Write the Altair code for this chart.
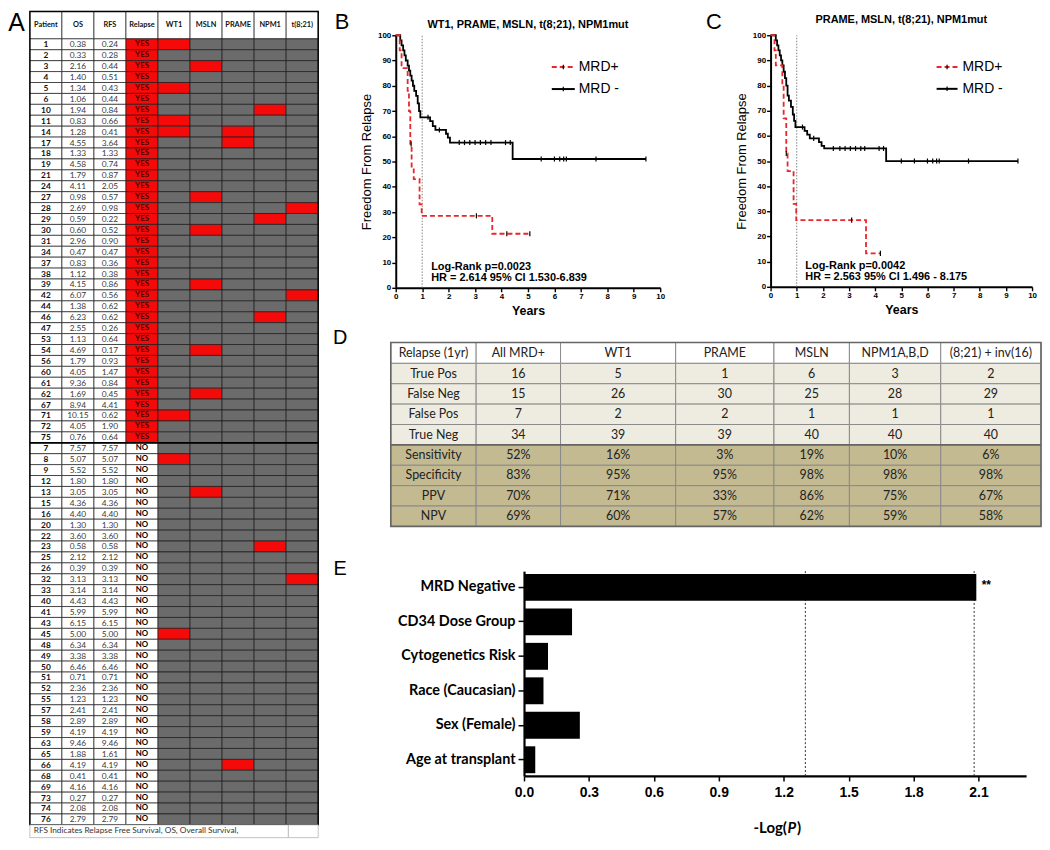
import altair as alt
import pandas as pd

# ======================= DATA =======================
# ---- Panel A: patient table ----
A_HEADERS = ["Patient", "OS", "RFS", "Relapse", "WT1", "MSLN", "PRAME", "NPM1", "t(8;21)"]
A_PATIENT = [1, 2, 3, 4, 5, 6, 10, 11, 14, 17, 18, 19, 21, 24, 27, 28, 29, 30, 31, 34,
             37, 38, 39, 42, 44, 46, 47, 53, 54, 56, 60, 61, 62, 67, 71, 72, 75,
             7, 8, 9, 12, 13, 15, 16, 20, 22, 23, 25, 26, 32, 33, 40, 41, 43, 45, 48,
             49, 50, 51, 52, 55, 57, 58, 59, 63, 65, 66, 68, 69, 73, 74, 76]
A_OS = ["0.38", "0.33", "2.16", "1.40", "1.34", "1.06", "1.94", "0.83", "1.28", "4.55",
        "1.33", "4.58", "1.79", "4.11", "0.98", "2.69", "0.59", "0.60", "2.96", "0.47",
        "0.83", "1.12", "4.15", "6.07", "1.38", "6.23", "2.55", "1.13", "4.69", "1.79",
        "4.05", "9.36", "1.69", "8.94", "10.15", "4.05", "0.76",
        "7.57", "5.07", "5.52", "1.80", "3.05", "4.36", "4.40", "1.30", "3.60", "0.58",
        "2.12", "0.39", "3.13", "3.14", "4.43", "5.99", "6.15", "5.00", "6.34", "3.38",
        "6.46", "0.71", "2.36", "1.23", "2.41", "2.89", "4.19", "9.46", "1.88", "4.19",
        "0.41", "4.16", "0.27", "2.08", "2.79"]
A_RFS = ["0.24", "0.28", "0.44", "0.51", "0.43", "0.44", "0.84", "0.66", "0.41", "3.64",
         "1.33", "0.74", "0.87", "2.05", "0.57", "0.98", "0.22", "0.52", "0.90", "0.47",
         "0.36", "0.38", "0.86", "0.56", "0.62", "0.62", "0.26", "0.64", "0.17", "0.93",
         "1.47", "0.84", "0.45", "4.41", "0.62", "1.90", "0.64",
         "7.57", "5.07", "5.52", "1.80", "3.05", "4.36", "4.40", "1.30", "3.60", "0.58",
         "2.12", "0.39", "3.13", "3.14", "4.43", "5.99", "6.15", "5.00", "6.34", "3.38",
         "6.46", "0.71", "2.36", "1.23", "2.41", "2.89", "4.19", "9.46", "1.61", "4.19",
         "0.41", "4.16", "0.27", "2.08", "2.79"]
A_RELAPSE = ["YES"] * 37 + ["NO"] * 35
A_MARKERS = {
    "WT1": [1, 5, 11, 14, 71, 8, 45],
    "MSLN": [3, 27, 30, 39, 54, 62, 13],
    "PRAME": [14, 17, 66],
    "NPM1": [10, 29, 46, 23],
    "t(8;21)": [28, 42, 32],
}
A_FOOTNOTE = "RFS Indicates Relapse Free Survival, OS, Overall Survival,"

# ---- Panels B, C: Kaplan-Meier ----
KM_XTICKS = [0, 1, 2, 3, 4, 5, 6, 7, 8, 9, 10]
KM_YTICKS = [0, 10, 20, 30, 40, 50, 60, 70, 80, 90, 100]
KM_LEGEND = ["MRD+", "MRD -"]

B_TITLE = "WT1, PRAME, MSLN, t(8;21), NPM1mut"
B_NEG_T = [0, 0.17, 0.22, 0.28, 0.33, 0.38, 0.45, 0.5, 0.55, 0.6, 0.65, 0.7, 0.77, 0.83,
           0.88, 0.93, 1.3, 1.4, 1.5, 1.9, 1.97, 2.05, 4.42, 9.46]
B_NEG_S = [100, 98, 96, 94, 92, 90, 88, 86, 84, 82, 80, 78, 76, 73,
           70, 67.5, 66, 64, 62.5, 61, 59.5, 57.5, 51, 51]
B_NEG_CENSOR = [1.22, 1.65, 2.4, 2.6, 2.8, 3.0, 3.2, 3.4, 3.6, 4.15, 4.33,
                5.5, 6.0, 6.2, 6.35, 6.45, 7.57, 9.46]
B_POS_T = [0, 0.15, 0.22, 0.45, 0.5, 0.55, 0.6, 0.68, 0.9, 0.98, 3.65, 5.07]
B_POS_S = [100, 94, 87, 78, 70, 57, 48, 43, 33, 28.5, 21.4, 21.4]
B_POS_CENSOR = [0.58, 3.05, 4.2, 5.07]
B_STATS = ["Log-Rank p=0.0023", "HR = 2.614 95% CI 1.530-6.839"]

C_TITLE = "PRAME, MSLN, t(8;21), NPM1mut"
C_NEG_T = [0, 0.2, 0.25, 0.3, 0.35, 0.4, 0.45, 0.5, 0.55, 0.6, 0.65, 0.7, 0.78, 0.85,
           0.9, 0.95, 1.3, 1.4, 1.5, 1.85, 1.95, 2.05, 4.42, 9.46]
C_NEG_S = [100, 98, 96, 94, 92, 90, 88, 85.5, 83, 80, 76, 74, 71.5, 68.5,
           66, 63.5, 62, 60.5, 59, 57.5, 56, 55, 50, 50]
C_NEG_CENSOR = [1.22, 1.65, 2.4, 2.65, 2.85, 3.05, 3.25, 3.45, 3.6, 4.15, 4.32,
                5.0, 5.5, 6.0, 6.2, 6.35, 6.45, 7.57, 9.46]
C_POS_T = [0, 0.15, 0.2, 0.45, 0.5, 0.6, 0.65, 0.88, 0.98, 3.65, 4.2]
C_POS_S = [100, 94, 88, 80, 67, 53, 46, 33, 26.5, 13.3, 13.3]
C_POS_CENSOR = [0.6, 3.1, 4.2]
C_STATS = ["Log-Rank p=0.0042", "HR = 2.563 95% CI 1.496 - 8.175"]

# ---- Panel D: performance table ----
D_COLS = ["Relapse (1yr)", "All MRD+", "WT1", "PRAME", "MSLN", "NPM1A,B,D", "(8;21) + inv(16)"]
D_ROWS = ["True Pos", "False Neg", "False Pos", "True Neg",
          "Sensitivity", "Specificity", "PPV", "NPV"]
D_ALL = ["16", "15", "7", "34", "52%", "83%", "70%", "69%"]
D_WT1 = ["5", "26", "2", "39", "16%", "95%", "71%", "60%"]
D_PRAME = ["1", "30", "2", "39", "3%", "95%", "33%", "57%"]
D_MSLN = ["6", "25", "1", "40", "19%", "98%", "86%", "62%"]
D_NPM1 = ["3", "28", "1", "40", "10%", "98%", "75%", "59%"]
D_T821 = ["2", "29", "1", "40", "6%", "98%", "67%", "58%"]

# ---- Panel E: -log(P) bars ----
E_LABELS = ["MRD Negative", "CD34 Dose Group", "Cytogenetics Risk",
            "Race (Caucasian)", "Sex  (Female)", "Age at transplant"]
E_VALUES = [2.09, 0.222, 0.111, 0.09, 0.258, 0.052]
E_THRESH = [1.3, 2.08]
E_TICKS = [0.0, 0.3, 0.6, 0.9, 1.2, 1.5, 1.8, 2.1]

# ======================= LAYOUT / STYLE =======================
W, H = 1040, 834
ARIAL = "Liberation Sans"
CAL = "Lato"
RED = "#f50a0a"
GRAY = "#6b6b6b"
KM_RED = "#e8262b"


def lin(dom, rng):
    return alt.Scale(domain=dom, range=rng, nice=False, zero=False)


def step_value(ts, ss, t):
    v = ss[0]
    for tt, s in zip(ts, ss):
        if tt <= t:
            v = s
    return v


layers = []

# ======================= PANEL A =======================
A_SX = lin([0, 9], [22, 312])
A_SY = lin([0, 72], [28.6, 819.2])
A_HDR_TOP = -2.51
A_FOOT_BOT = 73.17


def ax(f):
    return alt.X(f, type="quantitative", scale=A_SX, axis=None)


def ay(f):
    return alt.Y(f, type="quantitative", scale=A_SY, axis=None)


cells = []
for j in range(9):
    cells.append(dict(x0=j, x1=j + 1, y0=A_HDR_TOP, y1=0, fill="white"))
for i, p in enumerate(A_PATIENT):
    for j, h in enumerate(A_HEADERS):
        if j < 3:
            f = "white"
        elif j == 3:
            f = RED if A_RELAPSE[i] == "YES" else "white"
        else:
            f = RED if p in A_MARKERS[h] else GRAY
        cells.append(dict(x0=j, x1=j + 1, y0=i, y1=i + 1, fill=f))
cells = pd.DataFrame(cells)
layers.append(alt.Chart(cells).mark_rect(stroke="#1a1a1a", strokeWidth=0.7).encode(
    x=ax("x0"), x2="x1:Q", y=ay("y0"), y2="y1:Q", fill=alt.Fill("fill:N", scale=None)))

layers.append(alt.Chart(pd.DataFrame({"x0": [0], "x1": [9], "y": [37]})).mark_rule(
    color="black", strokeWidth=1.8).encode(x=ax("x0"), x2="x1:Q", y=ay("y")))
layers.append(alt.Chart(pd.DataFrame({"x0": [0], "x1": [9], "y0": [A_HDR_TOP], "y1": [72]})).mark_rect(
    fillOpacity=0, stroke="black", strokeWidth=1.4).encode(x=ax("x0"), x2="x1:Q", y=ay("y0"), y2="y1:Q"))

foot = pd.DataFrame({"x0": [0, 8.07], "x1": [8.07, 9], "y0": [72, 72],
                     "y1": [A_FOOT_BOT, A_FOOT_BOT], "fill": ["white", "white"]})
layers.append(alt.Chart(foot).mark_rect(stroke="#b5b5b5", strokeWidth=0.8).encode(
    x=ax("x0"), x2="x1:Q", y=ay("y0"), y2="y1:Q", fill=alt.Fill("fill:N", scale=None)))
layers.append(alt.Chart(pd.DataFrame({"x": [0.12], "y": [72.6], "label": [A_FOOTNOTE]})).mark_text(
    align="left", baseline="middle", font=CAL, fontSize=8.3, color="#333").encode(
    x=ax("x"), y=ay("y"), text="label:N"))

hdr = pd.DataFrame({"x": [j + 0.5 for j in range(9)], "y": [A_HDR_TOP / 2] * 9, "label": A_HEADERS})
layers.append(alt.Chart(hdr).mark_text(baseline="middle", font=CAL, fontSize=7.4,
                                       fontWeight="bold", color="#111").encode(
    x=ax("x"), y=ay("y"), text="label:N"))
pid = pd.DataFrame({"x": [0.5] * 72, "y": [i + 0.5 for i in range(72)],
                    "label": [str(p) for p in A_PATIENT]})
layers.append(alt.Chart(pid).mark_text(baseline="middle", font=CAL, fontSize=8.4,
                                       fontWeight="bold", color="#111").encode(
    x=ax("x"), y=ay("y"), text="label:N"))
nums = pd.DataFrame({"x": [1.5] * 72 + [2.5] * 72,
                     "y": [i + 0.5 for i in range(72)] * 2,
                     "label": A_OS + A_RFS})
layers.append(alt.Chart(nums).mark_text(baseline="middle", font=CAL, fontSize=8.4,
                                        color="#3a3a3a").encode(
    x=ax("x"), y=ay("y"), text="label:N"))
rel = pd.DataFrame({"x": [3.5] * 72, "y": [i + 0.5 for i in range(72)], "label": A_RELAPSE,
                    "color": ["#4a0000" if r == "YES" else "black" for r in A_RELAPSE]})
layers.append(alt.Chart(rel).mark_text(baseline="middle", font=CAL, fontSize=7.9,
                                       fontWeight="bold").encode(
    x=ax("x"), y=ay("y"), text="label:N", color=alt.Color("color:N", scale=None)))
layers.append(alt.Chart(pd.DataFrame({"x": [-0.42], "y": [-1.45], "label": ["A"]})).mark_text(
    baseline="middle", font=ARIAL, fontSize=25, color="black").encode(
    x=ax("x"), y=ay("y"), text="label:N"))


# ======================= PANELS B, C =======================
def km_layers(xr, yr, letter, letter_xy, title, title_y, neg_t, neg_s, neg_c,
              pos_t, pos_s, pos_c, stats, stats_xy, leg_x, leg_tx):
    SX = lin([0, 10], xr)
    SY = lin([0, 100], yr)

    def X(f, axis=None):
        return alt.X(f, type="quantitative", scale=SX, axis=axis)

    def Y(f, axis=None):
        return alt.Y(f, type="quantitative", scale=SY, axis=axis)

    L = []
    L.append(alt.Chart(pd.DataFrame({"t": [1], "y0": [0], "y1": [100]})).mark_rule(
        color="#777", strokeDash=[1.5, 1.5], strokeWidth=0.9).encode(
        x=X("t"), y=Y("y0"), y2="y1:Q"))

    xaxis = alt.Axis(orient="bottom", offset=yr[0] - H, values=KM_XTICKS, grid=False,
                     labelFlush=False, labelOverlap=False, labelFont=ARIAL, labelFontSize=8,
                     labelFontWeight="bold", labelColor="black", labelPadding=1,
                     tickColor="black", tickSize=4, tickWidth=1.4, domainColor="black",
                     domainWidth=2, title="Years", titleFont=ARIAL, titleFontSize=12.5,
                     titleFontWeight="bold", titleColor="black", titlePadding=4)
    yaxis = alt.Axis(orient="left", offset=-xr[0], values=KM_YTICKS, grid=False,
                     labelFlush=False, labelOverlap=False, labelFont=ARIAL, labelFontSize=8,
                     labelFontWeight="bold", labelColor="black", labelPadding=1,
                     tickColor="black", tickSize=4, tickWidth=1.4, domainColor="black",
                     domainWidth=2, title="Freedom From Relapse", titleFont=ARIAL,
                     titleFontSize=13, titleFontWeight="normal", titleColor="black",
                     titlePadding=4)
    neg = pd.DataFrame({"t": neg_t, "s": neg_s})
    pos = pd.DataFrame({"t": pos_t, "s": pos_s})
    L.append(alt.Chart(neg).mark_line(interpolate="step-after", color="black",
                                      strokeWidth=1.8).encode(x=X("t", xaxis), y=Y("s", yaxis)))
    L.append(alt.Chart(pos).mark_line(interpolate="step-after", color=KM_RED, strokeWidth=1.8,
                                      strokeDash=[5, 3]).encode(x=X("t"), y=Y("s")))
    cens = pd.DataFrame({
        "t": list(neg_c) + list(pos_c),
        "s": [step_value(neg_t, neg_s, c) for c in neg_c] +
             [step_value(pos_t, pos_s, c) for c in pos_c]})
    L.append(alt.Chart(cens).mark_point(shape="M0,-1L0,1", size=26, color="black",
                                        strokeWidth=1.2, filled=False, opacity=1).encode(
        x=X("t"), y=Y("s")))
    leg_y = [87.4, 78.7]
    leg = pd.DataFrame({"x0": [leg_x[0]] * 2, "x1": [leg_x[1]] * 2, "y": leg_y,
                        "xm": [(leg_x[0] + leg_x[1]) / 2] * 2, "tx": [leg_tx] * 2,
                        "label": KM_LEGEND})
    L.append(alt.Chart(leg.iloc[[0]]).mark_rule(color=KM_RED, strokeWidth=2,
                                                strokeDash=[5, 3]).encode(
        x=X("x0"), x2="x1:Q", y=Y("y")))
    L.append(alt.Chart(leg.iloc[[1]]).mark_rule(color="black", strokeWidth=2).encode(
        x=X("x0"), x2="x1:Q", y=Y("y")))
    L.append(alt.Chart(leg).mark_point(shape="M0,-1L0,1", size=20, color="black",
                                       strokeWidth=1.2, filled=False, opacity=1).encode(
        x=X("xm"), y=Y("y")))
    L.append(alt.Chart(leg).mark_text(align="left", baseline="middle", font=ARIAL,
                                      fontSize=14, color="black").encode(
        x=X("tx"), y=Y("y"), text="label:N"))
    st = pd.DataFrame({"x": [stats_xy[0]] * 2, "y": stats_xy[1], "label": stats})
    L.append(alt.Chart(st).mark_text(align="left", baseline="middle", font=ARIAL, fontSize=11,
                                     fontWeight="bold", color="black").encode(
        x=X("x"), y=Y("y"), text="label:N"))
    L.append(alt.Chart(pd.DataFrame({"x": [5.0], "y": [title_y], "label": [title]})).mark_text(
        align="center", baseline="middle", font=ARIAL, fontSize=11, fontWeight="bold",
        color="black").encode(x=X("x"), y=Y("y"), text="label:N"))
    L.append(alt.Chart(pd.DataFrame({"x": [letter_xy[0]], "y": [letter_xy[1]],
                                     "label": [letter]})).mark_text(
        align="center", baseline="middle", font=ARIAL, fontSize=22, color="black").encode(
        x=X("x"), y=Y("y"), text="label:N"))
    return L


layers += km_layers([390, 656], [279, 25], "B", (-2.03, 105.3), B_TITLE, 103.9,
                    B_NEG_T, B_NEG_S, B_NEG_CENSOR, B_POS_T, B_POS_S, B_POS_CENSOR,
                    B_STATS, (1.34, [8.1, 3.8]), (5.9, 6.77), 6.92)
layers += km_layers([767, 1030], [278, 25], "C", (-2.17, 105.3), C_TITLE, 105.9,
                    C_NEG_T, C_NEG_S, C_NEG_CENSOR, C_POS_T, C_POS_S, C_POS_CENSOR,
                    C_STATS, (1.33, [8.3, 3.7]), (6.35, 7.15), 7.34)

# ======================= PANEL D =======================
D_W = [86, 85, 116, 99, 76, 92, 101]
D_CUM = [0]
for w in D_W:
    D_CUM.append(D_CUM[-1] + w)
D_SX = lin([0, D_CUM[-1]], [385, 1039])
D_SY = lin([0, 8], [355, 519])
D_HDR_TOP = -1.024


def dx(f):
    return alt.X(f, type="quantitative", scale=D_SX, axis=None)


def dy(f):
    return alt.Y(f, type="quantitative", scale=D_SY, axis=None)


D_BODY = [D_ROWS, D_ALL, D_WT1, D_PRAME, D_MSLN, D_NPM1, D_T821]
drects, dtexts = [], []
for j in range(7):
    drects.append(dict(x0=D_CUM[j], x1=D_CUM[j + 1], y0=D_HDR_TOP, y1=0, fill="white"))
    dtexts.append(dict(x=(D_CUM[j] + D_CUM[j + 1]) / 2, y=D_HDR_TOP / 2, label=D_COLS[j]))
    for i in range(8):
        drects.append(dict(x0=D_CUM[j], x1=D_CUM[j + 1], y0=i, y1=i + 1,
                           fill="#eeece1" if i < 4 else "#c3ba92"))
        dtexts.append(dict(x=(D_CUM[j] + D_CUM[j + 1]) / 2, y=i + 0.5, label=D_BODY[j][i]))
layers.append(alt.Chart(pd.DataFrame(drects)).mark_rect(stroke="#8a8a8a", strokeWidth=1).encode(
    x=dx("x0"), x2="x1:Q", y=dy("y0"), y2="y1:Q", fill=alt.Fill("fill:N", scale=None)))
layers.append(alt.Chart(pd.DataFrame({"x0": [0], "x1": [D_CUM[-1]], "y": [4]})).mark_rule(
    color="#666", strokeWidth=1.6).encode(x=dx("x0"), x2="x1:Q", y=dy("y")))
layers.append(alt.Chart(pd.DataFrame({"x0": [0], "x1": [D_CUM[-1]], "y0": [D_HDR_TOP], "y1": [8]})).mark_rect(
    fillOpacity=0, stroke="#666", strokeWidth=1.6).encode(x=dx("x0"), x2="x1:Q", y=dy("y0"), y2="y1:Q"))
layers.append(alt.Chart(pd.DataFrame(dtexts)).mark_text(
    baseline="middle", font=CAL, fontSize=12.5, color="#222").encode(
    x=dx("x"), y=dy("y"), text="label:N"))
layers.append(alt.Chart(pd.DataFrame({"x": [-51], "y": [-1.22], "label": ["D"]})).mark_text(
    baseline="middle", font=ARIAL, fontSize=20, color="black").encode(
    x=dx("x"), y=dy("y"), text="label:N"))

# ======================= PANEL E =======================
E_TOP, E_BOT = 564, 770
E_SX = lin([0, 2.32], [519, 1024])
E_SY = alt.Scale(domain=E_LABELS, range=[E_TOP, E_BOT], paddingInner=0.22, paddingOuter=0.08)
E_SYQ = lin([0, 1], [E_BOT, E_TOP])

ex_axis = alt.Axis(orient="bottom", offset=E_BOT - H, values=E_TICKS, format=".1f", grid=False,
                   labelFlush=False, labelOverlap=False, labelFont=ARIAL, labelFontSize=14,
                   labelFontWeight="bold", labelColor="black", labelPadding=5, tickSize=5,
                   tickWidth=1.5, tickColor="black", domainColor="black", domainWidth=2.2,
                   title=None)
ey_axis = alt.Axis(orient="left", offset=-519, title=None, labelFont=CAL, labelFontSize=14.5,
                   labelFontWeight="bold", labelColor="black", labelPadding=3, tickSize=6,
                   tickWidth=1.5, tickColor="black", domainColor="black", domainWidth=2.2,
                   labelLimit=300)
edf = pd.DataFrame({"label": E_LABELS, "v": E_VALUES})
layers.append(alt.Chart(pd.DataFrame({"x": E_THRESH, "y0": [0, 0], "y1": [1, 1]})).mark_rule(
    color="#333", strokeDash=[2, 2], strokeWidth=1).encode(
    x=alt.X("x:Q", scale=E_SX, axis=None), y=alt.Y("y0:Q", scale=E_SYQ, axis=None), y2="y1:Q"))
layers.append(alt.Chart(edf).mark_bar(color="black").encode(
    x=alt.X("v:Q", scale=E_SX, axis=ex_axis),
    y=alt.Y("label:N", scale=E_SY, sort=E_LABELS, axis=ey_axis)))
layers.append(alt.Chart(pd.DataFrame({"label": ["MRD Negative"], "x": [2.115], "t": ["**"]})).mark_text(
    align="left", baseline="middle", font=ARIAL, fontSize=12, fontWeight="bold", dy=-3,
    color="black").encode(
    x=alt.X("x:Q", scale=E_SX, axis=None),
    y=alt.Y("label:N", scale=E_SY, sort=E_LABELS, axis=None), text="t:N"))
# axis title "-Log(P)" with italic P
etitle = pd.DataFrame({"x": [1.215] * 3, "y": [-0.252] * 3, "label": ["-Log(", "P", ")"]})
layers.append(alt.Chart(etitle.iloc[[0]]).mark_text(
    align="right", baseline="middle", font=CAL, fontSize=15, fontWeight="bold", color="black").encode(
    x=alt.X("x:Q", scale=E_SX, axis=None), y=alt.Y("y:Q", scale=E_SYQ, axis=None), text="label:N"))
layers.append(alt.Chart(etitle.iloc[[1]]).mark_text(
    align="left", baseline="middle", font=CAL, fontSize=15, fontWeight="bold", fontStyle="italic",
    dx=0.5, color="black").encode(
    x=alt.X("x:Q", scale=E_SX, axis=None), y=alt.Y("y:Q", scale=E_SYQ, axis=None), text="label:N"))
layers.append(alt.Chart(etitle.iloc[[2]]).mark_text(
    align="left", baseline="middle", font=CAL, fontSize=15, fontWeight="bold", dx=10,
    color="black").encode(
    x=alt.X("x:Q", scale=E_SX, axis=None), y=alt.Y("y:Q", scale=E_SYQ, axis=None), text="label:N"))
layers.append(alt.Chart(pd.DataFrame({"x": [-0.85], "y": [1.01], "label": ["E"]})).mark_text(
    baseline="middle", font=ARIAL, fontSize=20, color="black").encode(
    x=alt.X("x:Q", scale=E_SX, axis=None), y=alt.Y("y:Q", scale=E_SYQ, axis=None),
    text="label:N"))

# ======================= ASSEMBLE =======================
chart = alt.layer(*layers).properties(
    width=W, height=H, padding=0, background="white"
).resolve_scale(x="independent", y="independent").configure_view(stroke=None)

chart.save("out.html", embed_options={"renderer": "svg", "actions": False})
